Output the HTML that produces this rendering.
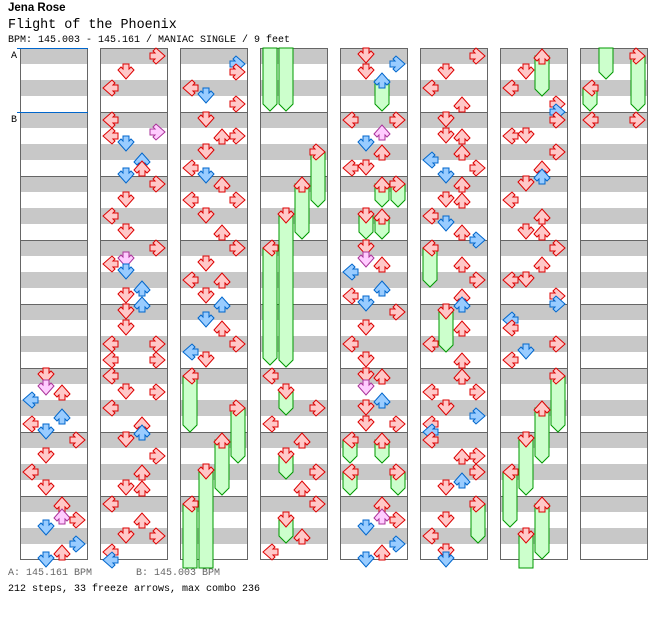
<!DOCTYPE html>
<html><head><meta charset="utf-8"><style>
body{margin:0;background:#fff;width:672px;height:620px;overflow:hidden;position:relative;font-family:"Liberation Mono",monospace}
.t{position:absolute;white-space:pre;color:#000}
</style></head><body>
<div class="t" style="left:8px;top:2px;font-size:11.5px;font-weight:bold;font-family:'Liberation Sans',sans-serif">Jena Rose</div>
<div class="t" style="left:8px;top:18px;font-size:13.4px">Flight of the Phoenix</div>
<div class="t" style="left:8px;top:35px;font-size:10px">BPM: 145.003 - 145.161 / MANIAC SINGLE / 9 feet</div>
<div class="t" style="left:8px;top:568px;font-size:10px;color:#666">A: 145.161 BPM</div>
<div class="t" style="left:136px;top:568px;font-size:10px;color:#666">B: 145.003 BPM</div>
<div class="t" style="left:8px;top:584px;font-size:10px">212 steps, 33 freeze arrows, max combo 236</div>
<svg id="s" width="672" height="620" style="position:absolute;left:0;top:0" xmlns="http://www.w3.org/2000/svg">
<text x="11" y="58" font-family="Liberation Mono,monospace" font-size="10">A</text>
<text x="11" y="122" font-family="Liberation Mono,monospace" font-size="10">B</text>
</svg>
<script>
var cols=[
"328D,340Dp,344U,352Lb,368Ub,376L,384Db,392R,408D,424L,440D,456U,468Up,472R,480Db,496Rb,504U,512Db",
"8R,24D,40L,72L,84Rp,88L,96Db,112Ub,120U,128Db,136R,152D,168L,184D,200R,212Dp,216L,224Db,240Ub,248D,256Ub,264D,280D,296L,296R,312L,312R,328L,344D,344R,360L,376U,384Ub,392D,408R,424U,440D,440U,456L,472U,488D,488R,504L,512Lb",
"16Rb,24R,40L,48Db,56R,72D,88U,88R,104D,120L,128Db,136U,152L,152R,168D,184U,200R,216D,232L,232U,248D,256Ub,272Db,280U,296R,304Lb,312D,F328L432,F360R463,F392U495,F424D999,F456L999",
"F-1L111,F-1D111,F104R207,F136U239,F168D367,F200L365,328L,F344D415,360R,376L,392U,F408D479,424R,440U,456R,F472D543,488U,504L",
"8D,16Rb,24D,F32Ub111,72L,72R,84Up,96Db,104U,120L,120D,F136U207,F136R207,F168D239,F168U239,200D,212Dp,216U,224Lb,240Ub,248L,256Db,264R,280D,296L,312D,328D,328U,340Dp,352Ub,360D,376D,376R,F392L463,F392U463,F424L495,F424R495,456U,468Up,472R,480Db,496Rb,504U,512Db",
"8R,24D,40L,56U,72D,88D,88U,104U,112Lb,120R,128Db,136U,152D,152U,168L,176Db,184U,192Rb,F200L287,216U,232R,248U,256Ub,F264D352,280U,296L,312U,328U,344L,344R,360D,368Rb,376L,384Lb,392L,408U,408R,424R,432Ub,440D,F456R543,472D,488L,504D,512Db",
"F8U96,24D,40L,56R,64Rb,72R,88L,88D,104R,120U,128Ub,136D,152L,168U,184D,184U,200R,216U,232L,232D,248R,256Rb,272Lb,280L,296R,304Db,312L,F328R432,F360U463,F392D495,F424L527,F456U559,F488D999",
"F-1D79,F8R111,F40L111,72L,72R"];
var ns="http://www.w3.org/2000/svg",s=document.getElementById('s'),bg="",fr="",ar="",fg="";
var lanes={L:10,D:26,U:42,R:58},rot={D:0,L:90,U:180,R:-90};
var col={r:["#ffc8c8","#dd0000"],b:["#99ccff","#0066cc"],p:["#ffccff","#aa3399"]};
var P="M-3,-8H3V-3L5,-5L8,-2L0,7L-8,-2L-5,-5L-3,-3Z";
for(var c=0;c<8;c++){var x=20+80*c;
 if(c>0||true){for(var k=0;k<16;k++)bg+='<rect x="'+x+'" y="'+(48+32*k)+'" width="68" height="16" fill="#c8c8c8"/>';}
 for(var m=1;m<8;m++)fg+='<line x1="'+x+'" x2="'+(x+68)+'" y1="'+(48.5+64*m)+'" y2="'+(48.5+64*m)+'" stroke="#666"/>';
 fg+='<rect x="'+(x+0.5)+'" y="48.5" width="67" height="511" fill="none" stroke="#666"/>';
 cols[c].split(",").forEach(function(e){
  var f=e[0]=="F";if(f)e=e.slice(1);
  var mm=e.match(/^(-?\d+)([LDUR])([rbp]?)(\d*)$/);var off=+mm[1],ln=mm[2],cl=mm[3]||"r",tip=+mm[4];
  var cx=x+lanes[ln],cy=48+off;
  if(f){var y0=off<0?48:cy,a=cx-7,b=cx+7;
   if(tip>=568)fr+='<path d="M'+a+','+y0+'H'+b+'V568H'+a+'Z" fill="#ccffcc" stroke="#009900"/>';
   else fr+='<path d="M'+a+','+y0+'H'+b+'V'+(tip-7)+'L'+cx+','+tip+'L'+a+','+(tip-7)+'Z" fill="#ccffcc" stroke="#009900"/>';}
  if(off>=0)ar+='<path d="'+P+'" transform="translate('+cx+','+cy+') rotate('+rot[ln]+')" fill="'+col[cl][0]+'" stroke="'+col[cl][1]+'" stroke-width="1"/>';
 });}
fg+='<line x1="17" x2="88" y1="48.5" y2="48.5" stroke="#0066cc"/><line x1="17" x2="88" y1="112.5" y2="112.5" stroke="#0066cc"/>';
s.insertAdjacentHTML('beforeend',bg+fg+fr+ar);
</script>
</body></html>
